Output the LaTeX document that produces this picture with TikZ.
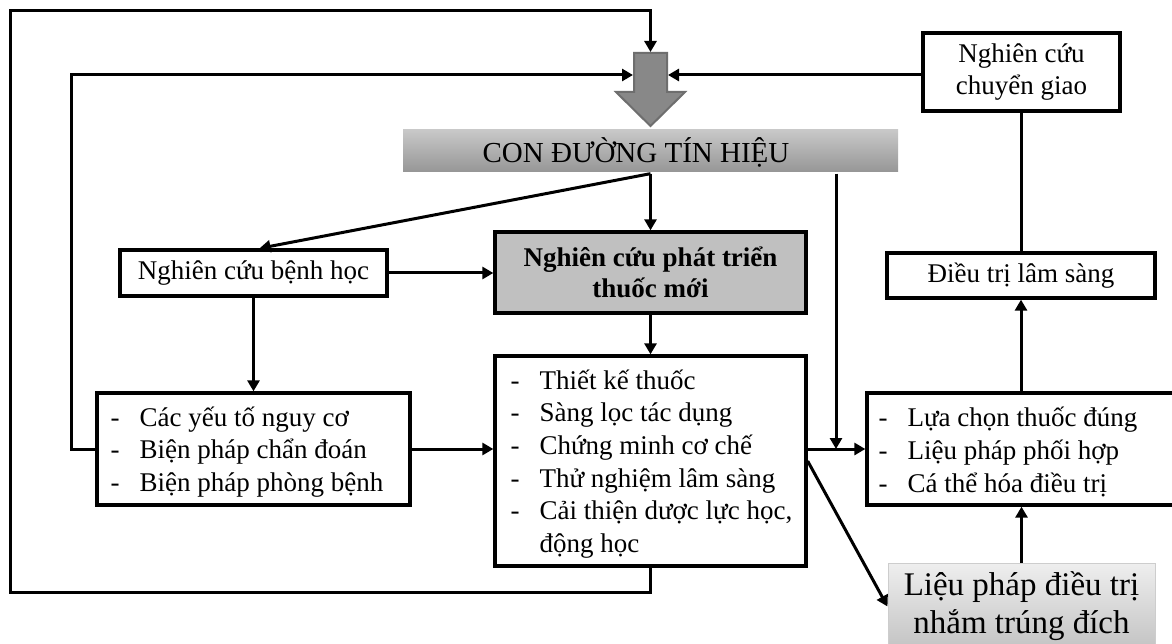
\documentclass[tikz,border=0pt]{standalone}
\usepackage{fontspec}
\setmainfont{Liberation Serif}
\usetikzlibrary{arrows.meta}
\definecolor{barTop}{RGB}{200,200,200}
\definecolor{barBot}{RGB}{150,150,150}
\definecolor{lpTop}{RGB}{238,238,238}
\definecolor{lpBot}{RGB}{195,195,195}
\definecolor{lpBorder}{RGB}{205,205,205}
\definecolor{phatGray}{RGB}{192,192,192}
\definecolor{bigArr}{RGB}{136,136,136}
\definecolor{bigArrB}{RGB}{110,110,110}
\newcommand{\nfs}{\fontsize{27}{32.6}\selectfont}
\newcommand{\bfs}{\fontsize{33}{38}\selectfont}
\newcommand{\dl}[1]{\makebox[29pt][l]{-}#1}
\tikzset{
  box/.style={draw, line width=3.3pt, inner sep=0pt, align=center, font=\nfs},
  txt/.style={inner sep=0pt, align=left, font=\nfs, anchor=west},
  arr/.style={line width=3pt, -{Triangle[length=11pt,width=12pt]}},
  ln/.style={line width=3pt}
}
\begin{document}
\begin{tikzpicture}[x=1pt,y=-1pt]
\useasboundingbox (0,0) rectangle (1172,644);
\fill[white] (0,0) rectangle (1172,644);

% big gray arrow
\draw[fill=bigArr, draw=bigArrB, line width=2pt] (634,53) -- (667,53) -- (667,92) -- (685,92) -- (650.5,126) -- (616,92) -- (634,92) -- cycle;
\coordinate (aTop) at (650.5,52);
\coordinate (aL) at (633,75);
\coordinate (aR) at (668,75);

% nodes
\node[box, draw=none, top color=barTop, bottom color=barBot, minimum width=495, minimum height=42] (bar) at (650.5,151) {};
\node[inner sep=0pt, font=\fontsize{29}{34}\selectfont] (barT) at (636,152) {CON ĐƯỜNG TÍN HIỆU};
\node[box, minimum width=197, minimum height=78] (chuyen) at (1021.5,72) {Nghiên cứu\\chuyển giao};
\node[box, minimum width=268, minimum height=45] (dieutri) at (1021,275.5) {Điều trị lâm sàng};
\node[box, minimum width=313, minimum height=112] (luachon) at (1023.5,449) {};
\node[txt] (luachonT) at ([xshift=13pt,yshift=-3pt]luachon.west)
  {\dl{Lựa chọn thuốc đúng}\\\dl{Liệu pháp phối hợp}\\\dl{Cá thể hóa điều trị}};
\node[box, draw=lpBorder, line width=1pt, top color=lpTop, bottom color=lpBot, minimum width=267, minimum height=87, font=\bfs] (lieuphap) at (1021.5,606.5)
  {Liệu pháp điều trị\\nhắm trúng đích};
\node[box, minimum width=267, minimum height=46] (benh) at (253.5,273) {Nghiên cứu bệnh học};
\node[box, fill=phatGray, minimum width=311, minimum height=81, font=\fontsize{27}{31}\selectfont\bfseries] (phat) at (650.5,272.5) {Nghiên cứu phát triển\\thuốc mới};
\node[box, minimum width=313, minimum height=112] (yeuto) at (253.5,449) {};
\node[txt] (yeutoT) at ([xshift=15pt,yshift=-3pt]yeuto.west)
  {\dl{Các yếu tố nguy cơ}\\\dl{Biện pháp chẩn đoán}\\\dl{Biện pháp phòng bệnh}};
\node[box, minimum width=311, minimum height=210] (box2) at (650.5,461) {};
\node[txt] (box2T) at ([xshift=17pt,yshift=-3pt]box2.west)
  {\dl{Thiết kế thuốc}\\\dl{Sàng lọc tác dụng}\\\dl{Chứng minh cơ chế}\\\dl{Thử nghiệm lâm sàng}\\\dl{Cải thiện dược lực học,}\\\hspace*{29pt}động học};

% outer loop
\coordinate (o1) at (650.5,592);
\coordinate (o2) at (10,592);
\coordinate (o3) at (10,11);
\coordinate (o4) at (650.5,11);
\draw[arr] (box2.south) -- (o1) -- (o2) -- (o3) -- (o4) -- (aTop);
% inner loop
\coordinate (i1) at (71,449);
\coordinate (i2) at (71,75);
\draw[arr] (yeuto.west) -- (i1) -- (i2) -- (aL);
\draw[arr] (chuyen.west |- aR) -- (aR);

% from bar
\coordinate (j) at (836,449);
\draw[arr] (bar.south) -- ([xshift=6pt]benh.north);
\draw[arr] (bar.south) -- (phat.north);
\draw[arr] (bar.south -| j) -- (j);

\draw[arr] (benh.east) -- (phat.west |- benh.east);
\draw[arr] (benh.south) -- (yeuto.north);
\draw[arr] (phat.south) -- (box2.north);
\draw[arr] (yeuto.east) -- (box2.west |- yeuto.east);
\draw[arr] (box2.east |- luachon.west) -- (luachon.west);
\draw[arr] (box2.east) -- (lieuphap.west);
\draw[arr] (lieuphap.north) -- (lieuphap.north |- luachon.south);
\draw[arr] (dieutri.south |- luachon.north) -- (dieutri.south);
\draw[ln] (dieutri.north) -- (dieutri.north |- chuyen.south);
\end{tikzpicture}
\end{document}
